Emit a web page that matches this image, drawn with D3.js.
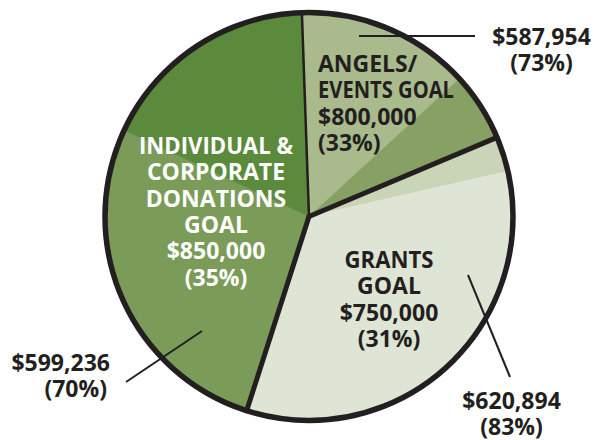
<!DOCTYPE html>
<html>
<head>
<meta charset="utf-8">
<script src="https://cdn.jsdelivr.net/npm/d3@7"></script>
<style>
  html, body { margin: 0; padding: 0; background: #ffffff; }
  svg { display: block; }
  text { font-family: "Open Sans", "Noto Sans", sans-serif; font-weight: 700; }
</style>
</head>
<body>
<svg id="chart" width="594" height="440"></svg>
<script>
// ---- data ----
const goalNames = [["ANGELS/", "EVENTS GOAL"], ["GRANTS", "GOAL"], ["INDIVIDUAL &", "CORPORATE", "DONATIONS", "GOAL"]];
const goalAmounts = [800000, 750000, 850000];
const goalShares = [33, 31, 35];
const raisedAmounts = [587954, 620894, 599236];
const raisedPercents = [73, 83, 70];
// drawn sectors (share of the circle, %), clockwise from the top: two parts for each goal
const segmentGoal = [0, 0, 1, 1, 2, 2];
const segmentShares = [13.75, 5.47, 2.78, 33.5, 27.0, 17.5];

// ---- style / layout ----
const segmentColors = ["#a9ba8c", "#86a163", "#cad5b7", "#dfe5d5", "#7b9b58", "#5b8a3c"];
const boundaryWidths = [2.5, 5, 5];
const ink = "#231f20";
const cx = 309, cy = 216.5, R = 204;
const startDeg = -2;
// widths (px) of a few lines as set in the reference's narrower typeface
const lineWidths = {"EVENTS GOAL": 136, "INDIVIDUAL &": 154, "GRANTS": 89};

const svg = d3.select("#chart");
const g = svg.append("g").attr("transform", `translate(${cx},${cy})`);

const start = startDeg * Math.PI / 180;
const pie = d3.pie().sort(null).value(d => d.v)
  .startAngle(start).endAngle(start + 2 * Math.PI);
const segs = pie(segmentShares.map((v, i) => ({v, goal: segmentGoal[i], i})));
const arc = d3.arc().innerRadius(0).outerRadius(R);

g.selectAll("path.seg").data(segs).join("path")
  .attr("class", "seg")
  .attr("d", arc)
  .attr("fill", d => segmentColors[d.data.i])
  .attr("stroke", d => segmentColors[d.data.i])
  .attr("stroke-width", 0.6);

// goal boundaries (start of each goal's first sector)
const bounds = segs.filter((d, i) => i === 0 || segmentGoal[i] !== segmentGoal[i - 1]);
g.selectAll("line.bound").data(bounds).join("line")
  .attr("class", "bound")
  .attr("x1", 0).attr("y1", 0)
  .attr("x2", d => R * Math.sin(d.startAngle))
  .attr("y2", d => -R * Math.cos(d.startAngle))
  .attr("stroke", ink)
  .attr("stroke-width", (d, i) => boundaryWidths[i])
  .attr("stroke-linecap", "round");

g.append("circle").attr("r", R).attr("fill", "none")
  .attr("stroke", ink).attr("stroke-width", 5.5);

// ---- labels ----
const fmt = d3.format(",");
const fs = 23, lh = 26.3;

function addLine(t, s, x, y) {
  const sp = t.append("tspan").attr("x", x).attr("y", y).text(s);
  if (lineWidths[s]) sp.attr("textLength", lineWidths[s]).attr("lengthAdjust", "spacingAndGlyphs");
}

const goalLabelPos = [
  {x: 318, y: 72, anchor: "start", fill: ink},
  {x: 389, y: 268, anchor: "middle", fill: ink},
  {x: 216, y: 154, anchor: "middle", fill: "#ffffff"}
];
goalNames.forEach((lines, k) => {
  const all = lines.concat(["$" + fmt(goalAmounts[k]), "(" + goalShares[k] + "%)"]);
  const p = goalLabelPos[k];
  const t = svg.append("text")
    .attr("x", p.x).attr("y", p.y)
    .attr("text-anchor", p.anchor)
    .attr("fill", p.fill)
    .attr("font-size", fs);
  all.forEach((s, j) => addLine(t, s, p.x, p.y + j * lh));
});

const raisedLabelPos = [
  {x: 541.5, y: 45, anchor: "middle", line: [[359, 36], [475, 36]]},
  {x: 511.5, y: 409, anchor: "middle", line: [[468, 275], [510, 377]]},
  {x: 110, y: 371, anchor: "end", line: [[126, 382], [202, 331]]}
];
raisedAmounts.forEach((v, k) => {
  const p = raisedLabelPos[k];
  svg.append("line")
    .attr("x1", p.line[0][0]).attr("y1", p.line[0][1])
    .attr("x2", p.line[1][0]).attr("y2", p.line[1][1])
    .attr("stroke", ink).attr("stroke-width", 2);
  const t = svg.append("text")
    .attr("x", p.x).attr("y", p.y)
    .attr("text-anchor", p.anchor)
    .attr("fill", ink)
    .attr("font-size", fs);
  addLine(t, "$" + fmt(v), p.x, p.y);
  addLine(t, "(" + raisedPercents[k] + "%)", p.anchor === "end" ? p.x - 3 : p.x, p.y + 25.5);
});
</script>
</body>
</html>
